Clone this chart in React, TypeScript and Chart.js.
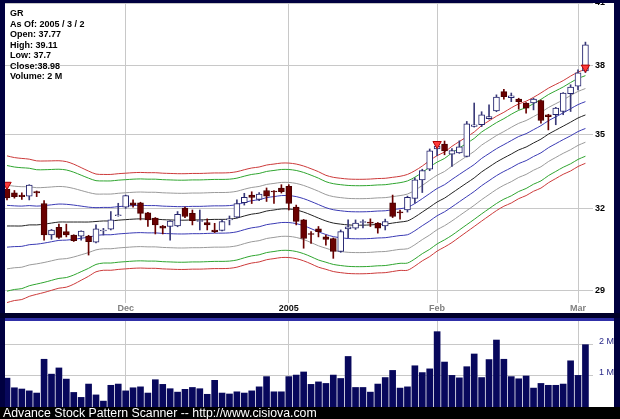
import React, { useEffect, useRef } from "react";
import { Chart, registerables } from "chart.js";
Chart.register(...registerables);

const FONT = '"Liberation Sans", Arial, Helvetica, sans-serif';

const infoLines = ["GR", "As Of: 2005 / 3 / 2", "Open: 37.77", "High: 39.11", "Low: 37.7", "Close:38.98", "Volume: 2 M"];
const monthLabels = ["Dec", "2005", "Feb", "Mar"];
const monthIndex = [16, 38, 58, 77];
const priceTicks = [29, 32, 35, 38, 41];
const volumeTicks = [1, 2];
const volumeTickLabels = ["1 M", "2 M"];
const footerText = "Advance Stock Pattern Scanner -- http://www.cisiova.com";

const open = [32.76, 32.61, 32.52, 32.48, 32.66, 32.19, 30.99, 31.28, 31.12, 30.99, 30.95, 30.95, 30.72, 31.14, 31.21, 31.72, 32.05, 32.22, 32.22, 31.83, 31.63, 31.33, 31.31, 31.33, 32.01, 31.81, 31.5, 31.46, 31.18, 31.16, 31.56, 31.66, 32.22, 32.52, 32.35, 32.7, 32.66, 32.8, 32.86, 32.05, 31.56, 31.03, 31.22, 30.92, 30.86, 30.38, 31.22, 31.25, 31.46, 31.45, 31.44, 31.33, 32.22, 31.85, 31.94, 32.39, 33.12, 33.55, 34.38, 34.58, 34.17, 34.22, 34.07, 35.33, 35.4, 35.66, 36.0, 36.84, 36.58, 36.51, 36.34, 36.34, 36.45, 35.83, 35.83, 35.97, 36.75, 37.09, 37.77];
const high = [32.95, 32.7, 32.61, 32.93, 32.68, 32.3, 31.2, 31.4, 31.4, 31.0, 31.15, 30.98, 31.37, 31.24, 31.88, 32.2, 32.52, 32.33, 32.24, 31.85, 31.65, 31.35, 31.53, 31.88, 32.05, 31.94, 31.94, 31.6, 31.43, 31.56, 31.71, 32.33, 32.59, 32.65, 32.62, 32.8, 32.7, 32.93, 32.93, 32.13, 31.58, 31.12, 31.31, 30.99, 30.88, 31.18, 31.56, 31.56, 31.56, 31.6, 31.46, 31.59, 32.52, 31.94, 32.48, 33.2, 33.55, 34.38, 34.59, 34.71, 34.4, 34.72, 35.54, 36.34, 35.96, 36.26, 36.7, 36.95, 36.78, 36.55, 36.36, 36.55, 36.47, 35.85, 36.15, 36.8, 37.15, 37.82, 39.11];
const low = [32.33, 32.4, 32.35, 32.33, 32.46, 30.8, 30.83, 30.86, 30.92, 30.75, 30.8, 30.25, 30.7, 30.99, 31.18, 31.7, 32.0, 32.05, 31.56, 31.31, 31.03, 31.03, 30.8, 31.3, 31.65, 31.37, 31.18, 31.18, 31.08, 31.14, 31.37, 31.64, 32.13, 32.19, 32.3, 32.27, 32.19, 32.6, 31.94, 31.37, 30.5, 30.68, 30.92, 30.61, 30.13, 30.35, 30.88, 31.2, 31.26, 31.31, 31.06, 31.18, 31.65, 31.59, 31.86, 32.2, 32.62, 33.49, 34.1, 34.14, 33.66, 34.2, 34.05, 35.3, 35.32, 35.64, 35.96, 36.51, 36.4, 36.07, 35.9, 36.04, 35.47, 35.18, 35.4, 35.83, 35.97, 36.92, 37.7];
const close = [32.41, 32.46, 32.46, 32.91, 32.6, 30.99, 31.18, 30.9, 30.99, 30.78, 31.14, 30.74, 31.22, 31.15, 31.56, 31.74, 32.5, 32.13, 31.81, 31.56, 31.37, 31.25, 31.52, 31.77, 31.69, 31.53, 31.52, 31.37, 31.12, 31.5, 31.57, 32.19, 32.43, 32.43, 32.56, 32.48, 32.64, 32.65, 32.19, 31.5, 30.86, 31.01, 31.12, 30.83, 30.38, 31.12, 31.3, 31.44, 31.47, 31.44, 31.25, 31.5, 31.69, 31.83, 32.43, 33.12, 33.5, 34.3, 34.5, 34.3, 34.31, 34.47, 35.44, 35.4, 35.83, 35.75, 36.6, 36.62, 36.66, 36.4, 36.12, 36.51, 35.58, 35.75, 36.12, 36.78, 37.05, 37.69, 38.98];
const volumeM = [0.93, 0.62, 0.58, 0.52, 0.45, 1.54, 1.06, 1.26, 0.9, 0.47, 0.31, 0.74, 0.39, 0.19, 0.7, 0.74, 0.52, 0.62, 0.65, 0.45, 0.88, 0.73, 0.59, 0.48, 0.57, 0.63, 0.59, 0.41, 0.86, 0.45, 0.42, 0.49, 0.45, 0.52, 0.65, 0.98, 0.49, 0.49, 0.98, 1.03, 1.13, 0.73, 0.81, 0.76, 1.03, 0.92, 1.63, 0.63, 0.63, 0.48, 0.74, 0.95, 1.18, 0.61, 0.65, 1.33, 1.11, 1.23, 2.43, 1.45, 1.02, 0.94, 1.3, 1.71, 0.95, 1.53, 2.16, 1.54, 0.98, 0.91, 1.0, 0.61, 0.76, 0.7, 0.7, 0.74, 1.49, 1.02, 2.01];
const center = [31.33, 31.33, 31.33, 31.37, 31.37, 31.4, 31.44, 31.48, 31.48, 31.48, 31.48, 31.48, 31.5, 31.52, 31.52, 31.55, 31.57, 31.59, 31.6, 31.59, 31.59, 31.57, 31.56, 31.55, 31.55, 31.56, 31.56, 31.57, 31.58, 31.58, 31.59, 31.63, 31.71, 31.78, 31.82, 31.9, 31.94, 31.98, 31.98, 31.94, 31.86, 31.75, 31.63, 31.52, 31.44, 31.4, 31.37, 31.36, 31.36, 31.37, 31.39, 31.4, 31.44, 31.48, 31.52, 31.67, 31.86, 32.05, 32.25, 32.4, 32.6, 32.8, 33.0, 33.2, 33.44, 33.64, 33.84, 34.01, 34.17, 34.34, 34.46, 34.63, 34.79, 35.0, 35.17, 35.34, 35.51, 35.69, 35.82];
const sigma = [0.79, 0.77, 0.76, 0.74, 0.72, 0.71, 0.7, 0.69, 0.68, 0.65, 0.61, 0.57, 0.53, 0.52, 0.52, 0.52, 0.52, 0.52, 0.52, 0.52, 0.52, 0.52, 0.52, 0.52, 0.52, 0.52, 0.52, 0.52, 0.52, 0.52, 0.52, 0.52, 0.52, 0.52, 0.52, 0.52, 0.52, 0.52, 0.52, 0.52, 0.52, 0.52, 0.52, 0.51, 0.51, 0.51, 0.51, 0.51, 0.51, 0.51, 0.51, 0.51, 0.51, 0.51, 0.52, 0.52, 0.52, 0.53, 0.53, 0.53, 0.54, 0.54, 0.54, 0.54, 0.55, 0.55, 0.55, 0.55, 0.56, 0.56, 0.56, 0.56, 0.57, 0.57, 0.57, 0.57, 0.58, 0.58, 0.58];
const bandMultipliers = [3.5, 3, 2, 1];
const bandColors = ["#cc3a3a", "#2fa52f", "#9a9a9a", "#3a3ab4"];
const signalIndex = [0, 58, 78];
const signalPrice = [32.93, 34.59, 37.93];

const X_MIN = -0.27;
const X_MAX = 79.02;

function App() {
  const mainRef = useRef<HTMLCanvasElement | null>(null);
  const volRef = useRef<HTMLCanvasElement | null>(null);

  useEffect(() => {
    const isUp = (i: number) => close[i] >= open[i];
    const bandSets: any[] = [];
    bandMultipliers.forEach((m, k) => {
      [1, -1].forEach((s) => {
        bandSets.push({
          type: "line",
          data: center.map((c, i) => ({ x: i, y: c + s * m * sigma[i] })),
          borderColor: bandColors[k],
          borderWidth: 1,
          pointRadius: 0,
          tension: 0.3,
          order: 3,
          clip: { left: 3, right: 3, top: 0, bottom: 0 },
        });
      });
    });
    bandSets.push({
      type: "line",
      data: center.map((c, i) => ({ x: i, y: c })),
      borderColor: "#222222",
      borderWidth: 1,
      pointRadius: 0,
      tension: 0.3,
      order: 3,
      clip: { left: 3, right: 3, top: 0, bottom: 0 },
    });

    const mainLabels = {
      id: "mainLabels",
      afterDraw(chart: any) {
        const ctx = chart.ctx;
        const ys = chart.scales.y;
        const xs = chart.scales.x;
        const area = chart.chartArea;
        ctx.save();
        ctx.font = "bold 9px " + FONT;
        ctx.textBaseline = "middle";
        ctx.textAlign = "left";
        ctx.fillStyle = "#000";
        priceTicks.forEach((v) => ctx.fillText(String(v), area.right + 2, ys.getPixelForValue(v)));
        ctx.textAlign = "center";
        monthLabels.forEach((t, k) => {
          ctx.fillStyle = t === "2005" ? "#111" : "#808080";
          ctx.fillText(t, xs.getPixelForValue(monthIndex[k]), area.bottom + 6);
        });
        ctx.textAlign = "left";
        ctx.fillStyle = "#000";
        infoLines.forEach((t, k) => ctx.fillText(t, 5, 11 + k * 10.5));
        ctx.restore();
      },
    };

    const main = new Chart(mainRef.current as HTMLCanvasElement, {
      type: "bar",
      data: {
        datasets: [
          {
            type: "line",
            data: signalIndex.map((x, k) => ({ x, y: signalPrice[k] })),
            showLine: false,
            pointStyle: "triangle",
            rotation: 180,
            pointRadius: 4.8,
            backgroundColor: "#ff3b3b",
            borderColor: "#b00000",
            borderWidth: 1,
            order: 0,
            clip: false,
          } as any,
          {
            type: "bar",
            data: open.map((o, i) => ({ x: i, y: [Math.min(o, close[i]), Math.max(o, close[i])] })),
            backgroundColor: open.map((_, i) => (isUp(i) ? "#ffffff" : "#6a0000")),
            borderColor: open.map((_, i) => (isUp(i) ? "#23236e" : "#4a0000")),
            borderWidth: 1,
            borderSkipped: false,
            barThickness: 6,
            grouped: false,
            minBarLength: 1,
            order: 1,
            clip: { left: 4, right: 4, top: 0, bottom: 0 },
          } as any,
          {
            type: "bar",
            data: open.map((_, i) => ({ x: i, y: [low[i], high[i]] })),
            backgroundColor: open.map((_, i) => (isUp(i) ? "#3a3a78" : "#6a0000")),
            borderWidth: 0,
            barThickness: 1,
            grouped: false,
            order: 2,
            clip: { left: 4, right: 4, top: 0, bottom: 0 },
          } as any,
          ...bandSets,
        ],
      },
      options: {
        animation: false,
        responsive: false,
        devicePixelRatio: 1,
        layout: { autoPadding: false, padding: { left: 0, right: 21, top: 0, bottom: 10 } },
        plugins: { legend: { display: false }, tooltip: { enabled: false } },
        scales: {
          x: {
            type: "linear",
            min: X_MIN,
            max: X_MAX,
            offset: false,
            afterBuildTicks: (s: any) => {
              s.ticks = monthIndex.map((v) => ({ value: v }));
            },
            ticks: { display: false },
            grid: { color: "#c8c8c8", drawTicks: false, offset: false },
            border: { display: false },
          },
          y: {
            type: "logarithmic",
            position: "right",
            min: 28.55,
            max: 41,
            afterBuildTicks: (s: any) => {
              s.ticks = priceTicks.map((v) => ({ value: v }));
            },
            ticks: { display: false },
            grid: { color: "#c8c8c8", drawTicks: false },
            border: { display: false },
          },
        },
      } as any,
      plugins: [mainLabels],
    });

    const volLabels = {
      id: "volLabels",
      afterDraw(chart: any) {
        const ctx = chart.ctx;
        const ys = chart.scales.y;
        ctx.save();
        ctx.font = "9px " + FONT;
        ctx.fillStyle = "#2a2a8a";
        ctx.textBaseline = "middle";
        ctx.textAlign = "left";
        volumeTicks.forEach((v, k) => ctx.fillText(volumeTickLabels[k], chart.chartArea.right + 6, ys.getPixelForValue(v) - 3));
        ctx.restore();
      },
    };

    const vol = new Chart(volRef.current as HTMLCanvasElement, {
      type: "bar",
      data: {
        datasets: [
          {
            data: volumeM.map((v, i) => ({ x: i, y: v })),
            backgroundColor: "#08085c",
            borderWidth: 0,
            barThickness: 6,
            clip: { left: 4, right: 4, top: 0, bottom: 0 },
          } as any,
        ],
      },
      options: {
        animation: false,
        responsive: false,
        devicePixelRatio: 1,
        layout: { autoPadding: false, padding: { left: 0, right: 21, top: 0, bottom: 0 } },
        plugins: { legend: { display: false }, tooltip: { enabled: false } },
        scales: {
          x: {
            type: "linear",
            min: X_MIN,
            max: X_MAX,
            offset: false,
            afterBuildTicks: (s: any) => {
              s.ticks = monthIndex.map((v) => ({ value: v }));
            },
            ticks: { display: false },
            grid: { color: "#c8c8c8", drawTicks: false, offset: false },
            border: { display: false },
          },
          y: {
            type: "linear",
            position: "right",
            min: 0,
            max: 2.774,
            afterBuildTicks: (s: any) => {
              s.ticks = volumeTicks.map((v) => ({ value: v }));
            },
            ticks: { display: false },
            grid: { color: "#c8c8c8", drawTicks: false },
            border: { display: false },
          },
        },
      } as any,
      plugins: [volLabels],
    });

    return () => {
      main.destroy();
      vol.destroy();
    };
  }, []);

  return (
    <div style={{ position: "fixed", left: 0, top: 0, width: 620, height: 419, background: "#000040", overflow: "hidden" }}>
      <canvas ref={mainRef} width={609} height={310} style={{ position: "absolute", left: 5, top: 3, background: "#ffffff" }} />
      <div style={{ position: "absolute", left: 0, top: 313, width: 620, height: 5, background: "#00002a" }} />
      <div style={{ position: "absolute", left: 5, top: 318, width: 609, height: 3, background: "#3030a8" }} />
      <canvas ref={volRef} width={609} height={86} style={{ position: "absolute", left: 5, top: 321, background: "#ffffff" }} />
      <div
        style={{
          position: "absolute",
          left: 0,
          top: 407,
          width: 620,
          height: 12,
          background: "#000000",
          color: "#ffffff",
          font: "12.3px " + FONT,
          lineHeight: "12px",
          paddingLeft: 3,
          whiteSpace: "nowrap",
        }}
      >
        {footerText}
      </div>
    </div>
  );
}

export default App;
